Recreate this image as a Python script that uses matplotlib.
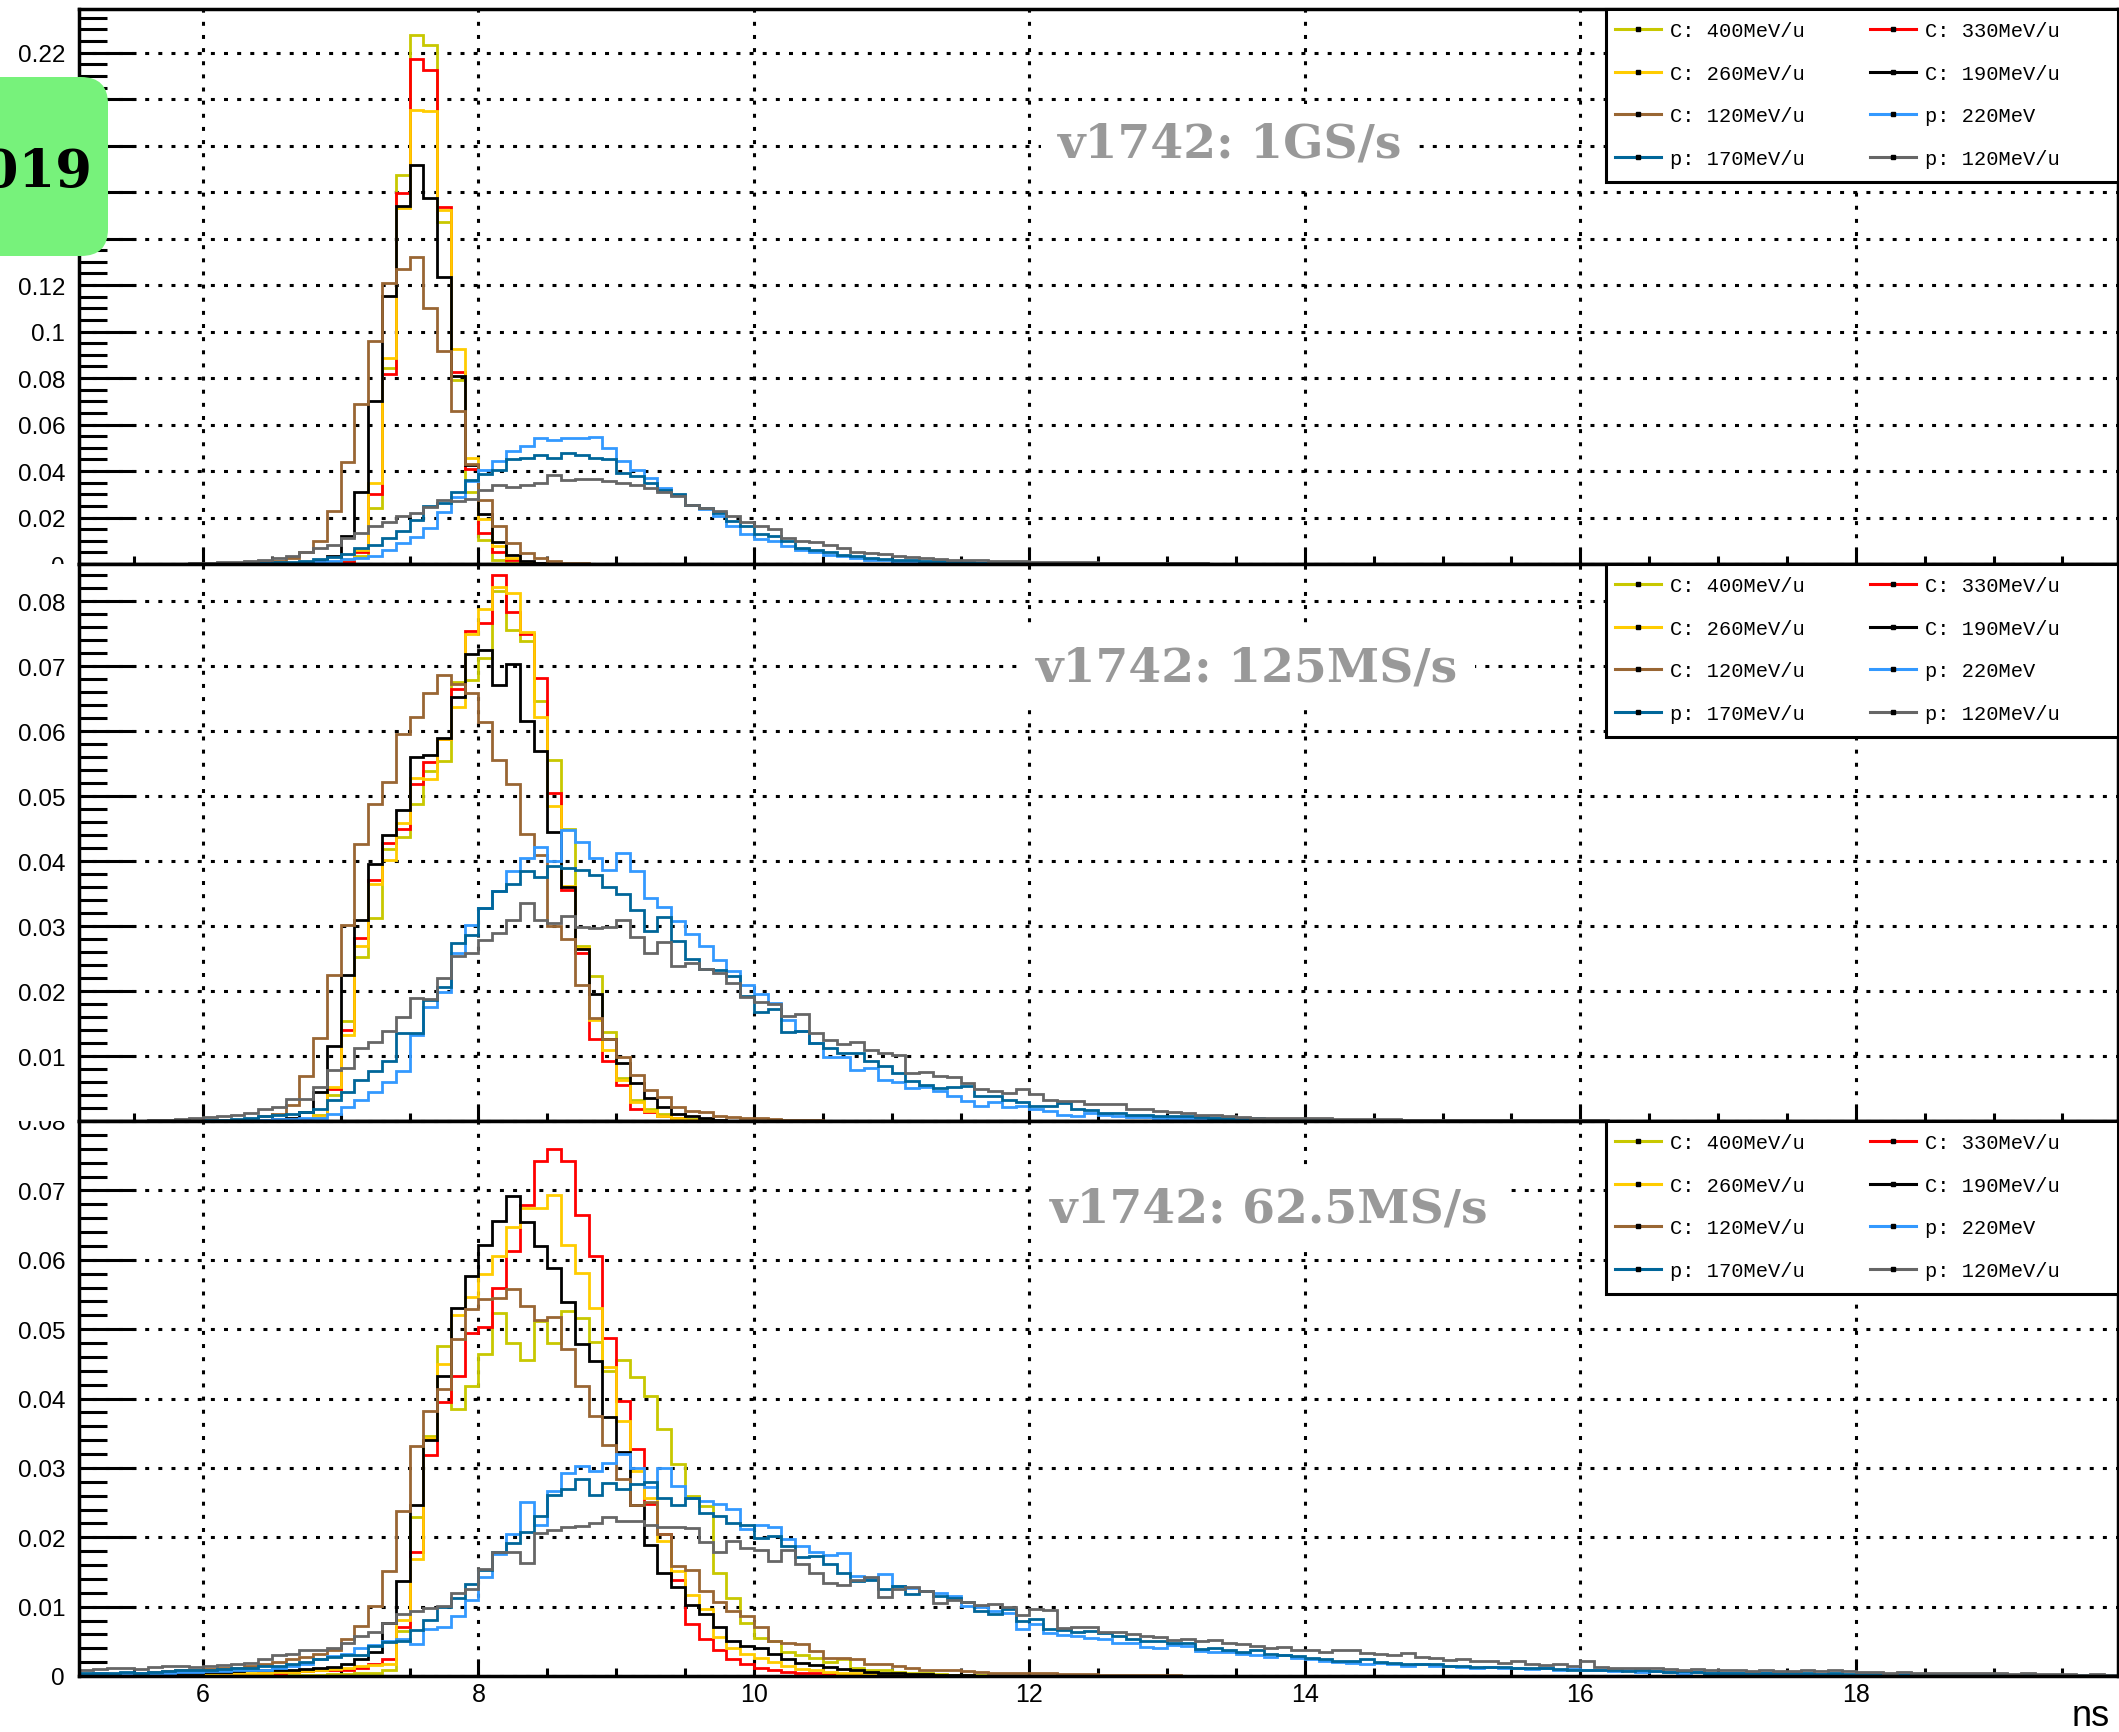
import numpy as np
import matplotlib
matplotlib.use('Agg')
import matplotlib.pyplot as plt
from matplotlib.lines import Line2D
from matplotlib.patches import Rectangle, FancyBboxPatch
from matplotlib.transforms import Bbox, TransformedBbox
from matplotlib.ticker import MultipleLocator

plt.rcParams['font.family'] = ['Liberation Sans', 'DejaVu Sans']

# time spectra, 0.1 ns bins between 5.1 and 19.9 ns
x_lo, x_hi, bin_w = 5.1, 19.9, 0.1
edges = np.round(x_lo + bin_w * np.arange(149), 2)

labels = ['C: 400MeV/u', 'C: 330MeV/u', 'C: 260MeV/u', 'C: 190MeV/u',
          'C: 120MeV/u', 'p: 220MeV', 'p: 170MeV/u', 'p: 120MeV/u']
colors = ['#c8c800', '#ff0000', '#ffcc00', '#000000',
          '#996633', '#3399ff', '#006699', '#666666']

titles = ['v1742: 1GS/s', 'v1742: 125MS/s', 'v1742: 62.5MS/s']

# ---------------- v1742 @ 1 GS/s ----------------
c400_1g0 = 6.9
c400_1g = [0.0005, 0.001, 0.0036, 0.024, 0.0844, 0.1675, 0.2274, 0.2235, 0.147, 0.079,
           0.031, 0.0105, 0.0019, 0.0005, 0.0002]
c330_1g0 = 6.9
c330_1g = [0.0005, 0.001, 0.005, 0.030, 0.0817, 0.1597, 0.2173, 0.2125, 0.1534, 0.0828,
           0.041, 0.0135, 0.005, 0.0019, 0.0005]
c260_1g0 = 6.9
c260_1g = [0.0008, 0.002, 0.006, 0.035, 0.0886, 0.153, 0.1953, 0.195, 0.1523, 0.0927,
           0.0456, 0.0194, 0.0078, 0.0026, 0.0008, 0.0002]
c190_1g0 = 6.7
c190_1g = [0.0008, 0.0015, 0.0036, 0.012, 0.031, 0.070, 0.1153, 0.154, 0.1715, 0.1576,
           0.1236, 0.0808, 0.0427, 0.0213, 0.0095, 0.004, 0.0012, 0.0004]
c120_1g0 = 6.3
c120_1g = [0.0005, 0.001, 0.0015, 0.0025, 0.005, 0.0099, 0.023, 0.044, 0.069, 0.096,
           0.121, 0.127, 0.132, 0.110, 0.0915, 0.066, 0.043, 0.0275, 0.0163, 0.009,
           0.0046, 0.0026, 0.0012, 0.0006, 0.0003]
p220_1g0 = 6.3
p220_1g = [0.0002, 0.0003, 0.0004, 0.0006, 0.0008, 0.001, 0.0014, 0.002, 0.0025, 0.0036,
           0.006, 0.009, 0.0118, 0.0154, 0.0224, 0.029, 0.0358, 0.0404, 0.0443, 0.0486,
           0.0508, 0.0544, 0.0532, 0.054, 0.054, 0.0548, 0.050, 0.0443, 0.0404, 0.037,
           0.0328, 0.0295, 0.0256, 0.0235, 0.0206, 0.0163, 0.0131, 0.0108, 0.0098, 0.0079,
           0.0062, 0.005, 0.004, 0.0033, 0.0026, 0.0019, 0.0016, 0.0013, 0.0011, 0.0009,
           0.0008, 0.0006, 0.0005, 0.0004, 0.0003, 0.0003, 0.0002, 0.0002, 0.0001]
p170_1g0 = 6.2
p170_1g = [0.0002, 0.0004, 0.0006, 0.0008, 0.001, 0.0015, 0.002, 0.003, 0.0044, 0.0067,
           0.0083, 0.011, 0.0143, 0.019, 0.025, 0.0264, 0.031, 0.0362, 0.0386, 0.0404,
           0.045, 0.0458, 0.0468, 0.0456, 0.0476, 0.0468, 0.0458, 0.045, 0.039, 0.0378,
           0.035, 0.032, 0.030, 0.0252, 0.0242, 0.022, 0.0184, 0.0163, 0.0131, 0.0122,
           0.0098, 0.0069, 0.0059, 0.005, 0.004, 0.0036, 0.0026, 0.0022, 0.0017, 0.0016,
           0.0014, 0.0012, 0.001, 0.0008, 0.0006, 0.0005, 0.0004, 0.0003, 0.0003, 0.0002,
           0.0002, 0.0001]
p120_1g0 = 5.8
p120_1g = [0.0002, 0.0003, 0.0005, 0.0007, 0.0009, 0.0012, 0.0018, 0.0025, 0.0035, 0.005,
           0.0068, 0.0083, 0.011, 0.0133, 0.0165, 0.018, 0.0205, 0.022, 0.0245, 0.0275,
           0.027, 0.028, 0.032, 0.0338, 0.0332, 0.0338, 0.035, 0.0381, 0.0361, 0.0367,
           0.0367, 0.0357, 0.035, 0.0338, 0.0328, 0.031, 0.0292, 0.0256, 0.0242, 0.0227,
           0.0206, 0.018, 0.0163, 0.0151, 0.0112, 0.010, 0.0094, 0.0083, 0.0069, 0.005,
           0.0047, 0.0045, 0.0036, 0.003, 0.0026, 0.0022, 0.0019, 0.0017, 0.0016, 0.0014,
           0.0013, 0.0011, 0.001, 0.0009, 0.0008, 0.0007, 0.0007, 0.0006, 0.0005, 0.0005,
           0.0004, 0.0004, 0.0003, 0.0003, 0.0003, 0.0002, 0.0002, 0.0002, 0.0001, 0.0001]

# ---------------- v1742 @ 125 MS/s ----------------
c400_125m0 = 6.8
c400_125m = [0.001, 0.004, 0.0154, 0.0253, 0.0313, 0.0418, 0.0437, 0.0488, 0.0538, 0.0554,
             0.0676, 0.0679, 0.0713, 0.0816, 0.0755, 0.0739, 0.0646, 0.0556, 0.045, 0.027,
             0.0223, 0.0137, 0.0066, 0.0033, 0.0019, 0.0011, 0.0005, 0.0003, 0.0001]
c330_125m0 = 6.7
c330_125m = [0.0003, 0.0008, 0.005, 0.014, 0.0281, 0.0371, 0.0427, 0.045, 0.0518, 0.0552,
             0.0588, 0.0665, 0.0754, 0.0766, 0.084, 0.0783, 0.075, 0.0681, 0.0505, 0.0355,
             0.0258, 0.0126, 0.0093, 0.0055, 0.0019, 0.0014, 0.0008, 0.0004, 0.0002]
c260_125m0 = 6.8
c260_125m = [0.0007, 0.0052, 0.0133, 0.027, 0.0364, 0.0401, 0.0459, 0.0527, 0.0526, 0.0587,
             0.0637, 0.075, 0.0787, 0.0821, 0.0813, 0.0753, 0.0621, 0.0484, 0.0362, 0.0266,
             0.0155, 0.011, 0.0063, 0.003, 0.0016, 0.0008, 0.0004, 0.0002]
c190_125m0 = 6.4
c190_125m = [0.0002, 0.0003, 0.0005, 0.0014, 0.0045, 0.0116, 0.0224, 0.031, 0.0395, 0.044,
             0.0478, 0.056, 0.0563, 0.059, 0.0653, 0.0719, 0.0724, 0.0671, 0.0703, 0.0615,
             0.0569, 0.0444, 0.036, 0.0264, 0.0195, 0.0126, 0.0089, 0.0058, 0.0036, 0.0022,
             0.0011, 0.0007, 0.0004, 0.0002]
c120_125m0 = 6.2
c120_125m = [0.0002, 0.0003, 0.0007, 0.0011, 0.0025, 0.0069, 0.0127, 0.0224, 0.0301, 0.0426,
             0.0487, 0.0522, 0.0596, 0.0622, 0.0658, 0.0686, 0.0673, 0.0658, 0.0614, 0.0555,
             0.0519, 0.0442, 0.041, 0.030, 0.028, 0.0209, 0.0159, 0.0126, 0.0098, 0.0071,
             0.0047, 0.0037, 0.0022, 0.0016, 0.0014, 0.0008, 0.0006, 0.0005, 0.0004, 0.0003,
             0.0002, 0.0002, 0.0001]
p220_125m0 = 6.3
p220_125m = [0.0001, 0.0002, 0.0003, 0.0003, 0.0004, 0.0005, 0.0011, 0.0021, 0.0033, 0.0045,
             0.006, 0.0077, 0.0133, 0.0175, 0.0199, 0.0259, 0.0302, 0.0327, 0.0354, 0.0384,
             0.0405, 0.0422, 0.040, 0.0448, 0.0429, 0.0404, 0.0386, 0.0413, 0.0385, 0.0343,
             0.0329, 0.0308, 0.0288, 0.0269, 0.0248, 0.0231, 0.021, 0.0195, 0.0182, 0.0156,
             0.0138, 0.012, 0.0099, 0.0099, 0.0079, 0.0082, 0.0063, 0.006, 0.0051, 0.0053,
             0.0046, 0.0039, 0.0031, 0.0023, 0.0029, 0.0021, 0.0023, 0.0018, 0.0015, 0.001,
             0.0008, 0.0013, 0.0009, 0.0007, 0.0006, 0.0006, 0.0005, 0.0005, 0.0004, 0.0004,
             0.0004, 0.0003, 0.0003, 0.0003, 0.0002, 0.0002, 0.0002, 0.0002, 0.0001, 0.0001,
             0.0001]
p170_125m0 = 6.0
p170_125m = [0.0002, 0.0002, 0.0003, 0.0005, 0.0007, 0.0009, 0.0011, 0.0014, 0.0018, 0.0033,
             0.0045, 0.0063, 0.0077, 0.0093, 0.0135, 0.0136, 0.0186, 0.0206, 0.0274, 0.0286,
             0.0327, 0.0354, 0.0365, 0.0385, 0.0376, 0.0393, 0.039, 0.0386, 0.0379, 0.036,
             0.0349, 0.0325, 0.0292, 0.0314, 0.0277, 0.025, 0.0234, 0.0232, 0.0223, 0.0192,
             0.0168, 0.0172, 0.0137, 0.0138, 0.012, 0.0113, 0.0105, 0.0104, 0.0092, 0.0085,
             0.0074, 0.0062, 0.0056, 0.0051, 0.0053, 0.0054, 0.0039, 0.0038, 0.0033, 0.0029,
             0.0023, 0.0023, 0.0027, 0.0018, 0.0017, 0.0013, 0.0012, 0.001, 0.0009, 0.0008,
             0.0008, 0.0007, 0.0006, 0.0005, 0.0005, 0.0004, 0.0004, 0.0003, 0.0003, 0.0003,
             0.0002, 0.0002, 0.0002, 0.0001, 0.0001, 0.0001]
p120_125m0 = 5.6
p120_125m = [0.0001, 0.0002, 0.0003, 0.0004, 0.0006, 0.0008, 0.001, 0.0013, 0.0018, 0.0022,
             0.0034, 0.0034, 0.0052, 0.0078, 0.0081, 0.0112, 0.0121, 0.0138, 0.016, 0.019,
             0.0187, 0.022, 0.0254, 0.0258, 0.0279, 0.029, 0.031, 0.0335, 0.031, 0.0305,
             0.0316, 0.0299, 0.0297, 0.0298, 0.0309, 0.0283, 0.0259, 0.0276, 0.0239, 0.0243,
             0.0234, 0.0228, 0.0213, 0.0191, 0.0183, 0.018, 0.0162, 0.0164, 0.0135, 0.0125,
             0.0118, 0.0122, 0.0109, 0.0105, 0.0101, 0.0074, 0.0075, 0.0069, 0.0068, 0.0059,
             0.005, 0.0046, 0.0043, 0.0049, 0.0041, 0.0033, 0.0031, 0.0031, 0.0026, 0.0026,
             0.0026, 0.0019, 0.0018, 0.0015, 0.0014, 0.0013, 0.001, 0.0009, 0.0007, 0.0006,
             0.0005, 0.0005, 0.0004, 0.0004, 0.0004, 0.0004, 0.0003, 0.0003, 0.0003, 0.0003,
             0.0003, 0.0002, 0.0002, 0.0002, 0.0002, 0.0002, 0.0002, 0.0001, 0.0001, 0.0001,
             0.0001, 0.0001, 0.0001, 0.0001, 0.0001, 0.0001]

# ---------------- v1742 @ 62.5 MS/s ----------------
c400_62m0 = 6.5
c400_62m = [0.0001, 0.0001, 0.0002, 0.0002, 0.0003, 0.0003, 0.0004, 0.0005, 0.0009, 0.0065,
            0.0229, 0.0346, 0.0475, 0.0385, 0.0418, 0.0464, 0.0523, 0.048, 0.0456, 0.0511,
            0.048, 0.0526, 0.0516, 0.0481, 0.0439, 0.0456, 0.0431, 0.0404, 0.0356, 0.0305,
            0.0259, 0.0245, 0.0148, 0.0113, 0.0076, 0.0055, 0.005, 0.0035, 0.003, 0.0026,
            0.002, 0.0024, 0.0011, 0.0009, 0.0008, 0.0006, 0.0005, 0.0004, 0.0003, 0.0002,
            0.0002, 0.0001]
c330_62m0 = 6.0
c330_62m = [0.0002, 0.0002, 0.0003, 0.0003, 0.0004, 0.0005, 0.0006, 0.0007, 0.0008, 0.0009,
            0.0009, 0.0011, 0.0017, 0.0025, 0.0071, 0.0179, 0.0318, 0.0395, 0.0433, 0.0494,
            0.0503, 0.0559, 0.0613, 0.0679, 0.0743, 0.076, 0.0743, 0.0665, 0.0606, 0.0487,
            0.0397, 0.0327, 0.0248, 0.0204, 0.0139, 0.0075, 0.0053, 0.0038, 0.0025, 0.0017,
            0.0012, 0.0009, 0.0006, 0.0005, 0.0004, 0.0003, 0.0002, 0.0002, 0.0001]
c260_62m0 = 5.6
c260_62m = [0.0002, 0.0002, 0.0003, 0.0003, 0.0003, 0.0004, 0.0004, 0.0005, 0.0005, 0.0006,
            0.0006, 0.0007, 0.0008, 0.001, 0.0012, 0.0015, 0.0016, 0.0017, 0.0081, 0.0169,
            0.0343, 0.045, 0.0521, 0.0547, 0.058, 0.0606, 0.0647, 0.0675, 0.0675, 0.0693,
            0.0621, 0.0581, 0.0531, 0.0446, 0.0368, 0.0295, 0.0256, 0.0194, 0.0151, 0.0117,
            0.0097, 0.0056, 0.004, 0.0031, 0.0026, 0.002, 0.0014, 0.001, 0.0008, 0.0006,
            0.0005, 0.0004, 0.0003, 0.0002, 0.0002, 0.0001]
c190_62m0 = 5.1
c190_62m = [0.0001, 0.0001, 0.0002, 0.0002, 0.0003, 0.0003, 0.0004, 0.0005, 0.0005, 0.0006,
            0.0006, 0.0007, 0.0008, 0.0008, 0.0009, 0.0009, 0.001, 0.0012, 0.0013, 0.0017,
            0.0024, 0.0035, 0.0076, 0.0137, 0.0246, 0.034, 0.0433, 0.0531, 0.0576, 0.0621,
            0.0656, 0.0692, 0.0655, 0.062, 0.0588, 0.0539, 0.0478, 0.0454, 0.0374, 0.0323,
            0.0246, 0.0189, 0.0148, 0.0128, 0.0102, 0.0089, 0.0071, 0.005, 0.0043, 0.0041,
            0.0032, 0.0024, 0.0019, 0.0016, 0.0013, 0.001, 0.0008, 0.0006, 0.0005, 0.0004,
            0.0003, 0.0003, 0.0002, 0.0002, 0.0001]
c120_62m0 = 5.1
c120_62m = [0.0002, 0.0003, 0.0003, 0.0004, 0.0005, 0.0006, 0.0007, 0.0008, 0.0009, 0.001,
            0.0011, 0.0012, 0.0014, 0.0017, 0.002, 0.0024, 0.0027, 0.0031, 0.0038, 0.0053,
            0.0072, 0.0101, 0.0152, 0.0238, 0.0331, 0.0382, 0.0413, 0.0486, 0.0529, 0.0544,
            0.0545, 0.0558, 0.0534, 0.0513, 0.0517, 0.0472, 0.0418, 0.0375, 0.0333, 0.0284,
            0.0247, 0.0251, 0.0205, 0.0158, 0.0153, 0.0122, 0.0107, 0.0093, 0.0086, 0.007,
            0.005, 0.0048, 0.0046, 0.0036, 0.0026, 0.0026, 0.0024, 0.0018, 0.0017, 0.0014,
            0.0011, 0.0009, 0.0008, 0.0008, 0.0007, 0.0006, 0.0005, 0.0005, 0.0005, 0.0004,
            0.0004, 0.0003, 0.0003, 0.0003, 0.0002, 0.0002, 0.0002, 0.0002, 0.0001, 0.0001]
p220_62m0 = 5.1
p220_62m = [0.0003, 0.0004, 0.0003, 0.0004, 0.0004, 0.0005, 0.0005, 0.0006, 0.0006, 0.0007,
            0.0007, 0.0008, 0.0008, 0.0009, 0.0012, 0.0014, 0.0017, 0.0024, 0.0029, 0.0032,
            0.004, 0.0045, 0.005, 0.0053, 0.0046, 0.0068, 0.0071, 0.0086, 0.011, 0.0143,
            0.0176, 0.0204, 0.0251, 0.0217, 0.0266, 0.0293, 0.0302, 0.0295, 0.0307, 0.032,
            0.030, 0.0272, 0.030, 0.0274, 0.0257, 0.0252, 0.0248, 0.0241, 0.0212, 0.0217,
            0.0215, 0.0197, 0.0188, 0.0179, 0.0175, 0.0178, 0.0144, 0.014, 0.0147, 0.013,
            0.0127, 0.0123, 0.0119, 0.0116, 0.0101, 0.0099, 0.0094, 0.0091, 0.0068, 0.0075,
            0.0062, 0.0059, 0.0058, 0.0055, 0.0053, 0.0047, 0.0047, 0.0042, 0.0041, 0.0044,
            0.0043, 0.0036, 0.0035, 0.0034, 0.0031, 0.003, 0.0028, 0.003, 0.0026, 0.0025,
            0.0022, 0.002, 0.0019, 0.0018, 0.0019, 0.0017, 0.0015, 0.0017, 0.0014, 0.0015,
            0.0013, 0.0012, 0.0013, 0.0011, 0.0012, 0.001, 0.0011, 0.0009, 0.001, 0.0008,
            0.0009, 0.0007, 0.0008, 0.0006, 0.0007, 0.0006, 0.0005, 0.0006, 0.0005, 0.0004,
            0.0005, 0.0004, 0.0004, 0.0003, 0.0004, 0.0003, 0.0003, 0.0003, 0.0002, 0.0003,
            0.0002, 0.0002, 0.0003, 0.0002, 0.0002, 0.0002, 0.0001, 0.0002, 0.0002, 0.0001,
            0.0002, 0.0001, 0.0001, 0.0002, 0.0001, 0.0001, 0.0001, 0.0001]
p170_62m0 = 5.1
p170_62m = [0.0004, 0.0005, 0.0004, 0.0006, 0.0005, 0.0006, 0.0007, 0.0008, 0.0008, 0.0009,
            0.001, 0.0011, 0.0012, 0.0014, 0.0015, 0.0017, 0.002, 0.0024, 0.0027, 0.003,
            0.003, 0.0043, 0.0049, 0.0051, 0.0066, 0.0081, 0.0099, 0.0112, 0.0133, 0.0153,
            0.0179, 0.0192, 0.0207, 0.023, 0.0261, 0.027, 0.0284, 0.0261, 0.0278, 0.0269,
            0.0277, 0.0279, 0.0256, 0.0246, 0.0256, 0.0235, 0.0231, 0.022, 0.0217, 0.0199,
            0.0202, 0.0187, 0.0171, 0.0173, 0.0161, 0.0149, 0.0137, 0.0139, 0.0125, 0.013,
            0.0118, 0.0123, 0.0115, 0.0112, 0.0106, 0.0094, 0.0089, 0.0096, 0.0079, 0.0082,
            0.0068, 0.0066, 0.0063, 0.0065, 0.0062, 0.0058, 0.0054, 0.005, 0.0051, 0.0048,
            0.0047, 0.0039, 0.0041, 0.0038, 0.0034, 0.0038, 0.0031, 0.003, 0.0029, 0.0026,
            0.0024, 0.0022, 0.0022, 0.0024, 0.002, 0.0019, 0.0018, 0.0017, 0.0017, 0.0015,
            0.0014, 0.0013, 0.0013, 0.0013, 0.0012, 0.0011, 0.0011, 0.001, 0.0009, 0.0009,
            0.0008, 0.0009, 0.0007, 0.0008, 0.0007, 0.0006, 0.0007, 0.0006, 0.0005, 0.0005,
            0.0005, 0.0004, 0.0005, 0.0004, 0.0004, 0.0004, 0.0003, 0.0004, 0.0003, 0.0003,
            0.0003, 0.0003, 0.0002, 0.0003, 0.0002, 0.0002, 0.0003, 0.0002, 0.0002, 0.0002,
            0.0002, 0.0001, 0.0002, 0.0002, 0.0001, 0.0002, 0.0001, 0.0001]
p120_62m0 = 5.1
p120_62m = [0.0009, 0.001, 0.0012, 0.0011, 0.001, 0.0013, 0.0014, 0.0014, 0.0013, 0.0015,
            0.0016, 0.0018, 0.0019, 0.0024, 0.003, 0.0031, 0.0038, 0.0038, 0.004, 0.0048,
            0.0057, 0.0063, 0.0077, 0.0089, 0.0093, 0.0098, 0.0101, 0.012, 0.0126, 0.0154,
            0.0179, 0.0179, 0.0163, 0.0206, 0.021, 0.0215, 0.0216, 0.0221, 0.0229, 0.0224,
            0.0224, 0.0217, 0.0215, 0.0215, 0.0214, 0.0193, 0.0179, 0.0195, 0.0184, 0.0181,
            0.0166, 0.0181, 0.0161, 0.0148, 0.0134, 0.0131, 0.0138, 0.0143, 0.0114, 0.0126,
            0.0129, 0.0122, 0.0105, 0.011, 0.0106, 0.0102, 0.0104, 0.010, 0.0088, 0.0096,
            0.0095, 0.0069, 0.0071, 0.0071, 0.0064, 0.0063, 0.0061, 0.0057, 0.0056, 0.0052,
            0.0054, 0.005, 0.0052, 0.0047, 0.0046, 0.0043, 0.0041, 0.0042, 0.0038, 0.0038,
            0.0035, 0.0037, 0.0038, 0.0033, 0.0032, 0.003, 0.0033, 0.0028, 0.0026, 0.0023,
            0.0024, 0.0022, 0.0021, 0.0019, 0.0021, 0.0018, 0.0016, 0.0017, 0.0014, 0.0021,
            0.0013, 0.0012, 0.0012, 0.0011, 0.0012, 0.001, 0.0009, 0.001, 0.0008, 0.0009,
            0.0008, 0.0007, 0.0009, 0.0007, 0.0007, 0.0008, 0.0007, 0.0008, 0.0007, 0.0006,
            0.0006, 0.0005, 0.0006, 0.0005, 0.0005, 0.0004, 0.0005, 0.0004, 0.0004, 0.0004,
            0.0003, 0.0004, 0.0003, 0.0003, 0.0003, 0.0002, 0.0003, 0.0002]

panels = [
    [(c400_1g0, c400_1g), (c330_1g0, c330_1g), (c260_1g0, c260_1g), (c190_1g0, c190_1g),
     (c120_1g0, c120_1g), (p220_1g0, p220_1g), (p170_1g0, p170_1g), (p120_1g0, p120_1g)],
    [(c400_125m0, c400_125m), (c330_125m0, c330_125m), (c260_125m0, c260_125m),
     (c190_125m0, c190_125m), (c120_125m0, c120_125m), (p220_125m0, p220_125m),
     (p170_125m0, p170_125m), (p120_125m0, p120_125m)],
    [(c400_62m0, c400_62m), (c330_62m0, c330_62m), (c260_62m0, c260_62m),
     (c190_62m0, c190_62m), (c120_62m0, c120_62m), (p220_62m0, p220_62m),
     (p170_62m0, p170_62m), (p120_62m0, p120_62m)],
]


def to_hist(x0, vals):
    h = np.zeros(len(edges) - 1)
    i0 = int(round((x0 - x_lo) / bin_w))
    h[i0:i0 + len(vals)] = vals
    return h


W, H = 2119, 1733
fig = plt.figure(figsize=(W / 100, H / 100), dpi=100)

# pad geometry in pixels (top, bottom) -- pads touch each other
pad_px = [(10, 565), (565, 1122), (1122, 1677)]
ax_left, ax_right = 79, 2117.5
ymax = [0.2388, 0.0857, 0.080]
ymaj = [0.02, 0.01, 0.01]
ymin_ = [0.005, 0.002, 0.002]
title_pos = [(1058, 158), (1036, 682), (1050, 1223)]   # left, baseline (px)
legend_h = 173

# legend handle order so the two columns read row-wise
leg_order = [0, 2, 4, 6, 1, 3, 5, 7]

for k, (top, bot) in enumerate(pad_px):
    ax = fig.add_axes([ax_left / W, 1 - bot / H, (ax_right - ax_left) / W, (bot - top) / H])
    for (x0, vals), c in zip(panels[k], colors):
        ax.stairs(to_hist(x0, vals), edges, color=c, lw=2.0, zorder=2)

    ax.set_xlim(x_lo, x_hi)
    ax.set_ylim(0, ymax[k])
    ax.xaxis.set_major_locator(MultipleLocator(2))
    ax.xaxis.set_minor_locator(MultipleLocator(0.5))
    ax.yaxis.set_major_locator(MultipleLocator(ymaj[k]))
    ax.yaxis.set_minor_locator(MultipleLocator(ymin_[k]))
    ax.grid(True, which='major', color='k', lw=2.2, linestyle=(0, (1.3, 3.0)))

    for s in ax.spines.values():
        s.set_linewidth(2.5)
    ax.tick_params(axis='y', which='major', direction='in', length=41, width=2.2,
                   pad=10, labelsize=17.5)
    ax.tick_params(axis='y', which='minor', direction='in', length=20.5, width=2.2)
    ax.tick_params(axis='x', which='major', direction='in', length=11.5, width=2.2,
                   pad=4, labelsize=18, labelbottom=(k == 2))
    ax.tick_params(axis='x', which='minor', direction='in', length=5.8, width=2.2)

    # y labels are clipped to their own pad; the ones under the badge stay blank
    yticks = np.round(np.arange(0, ymax[k] + 1e-9, ymaj[k]), 3)
    ax.set_yticks(yticks)
    ylabs = []
    for v in yticks:
        if (k == 1 and v == 0) or (k == 0 and 0.13 < v < 0.21):
            ylabs.append('')
        else:
            ylabs.append('0' if v == 0 else f'{v:g}')
    ax.set_yticklabels(ylabs)
    clip_lo = 0 if k == 2 else 1 - bot / H
    clip_hi = 1 if k == 0 else 1 - top / H
    clip = TransformedBbox(Bbox.from_extents(0, clip_lo, 1, clip_hi), fig.transFigure)
    for lab in ax.get_yticklabels():
        lab.set_clip_box(clip)
        lab.set_clip_on(True)

    # sampling-rate title with white backing
    tx, ty = title_pos[k]
    ax.text((tx - ax_left) / (ax_right - ax_left), 1 - (ty - top) / (bot - top), titles[k],
            transform=ax.transAxes, ha='left', va='baseline', fontsize=34,
            fontweight='bold', family='DejaVu Serif', color='#999999', zorder=3,
            bbox=dict(boxstyle='square,pad=0.35', facecolor='white', edgecolor='none'))

    # legend box
    h_frac = legend_h / (bot - top)
    fx0 = (1606 - ax_left) / (ax_right - ax_left)
    ax.add_patch(Rectangle((fx0, 1 - h_frac), 1 - fx0, h_frac, transform=ax.transAxes,
                           facecolor='white', edgecolor='black', lw=2.2, zorder=4,
                           clip_on=False))
    handles = [Line2D([], [], color=colors[i], lw=2.2, marker='s', markersize=2.5,
                      markerfacecolor='k', markeredgecolor='k') for i in leg_order]
    ax.legend(handles, [labels[i] for i in leg_order], ncol=2, loc='upper left',
              bbox_to_anchor=(fx0, 1 - 3 / (bot - top)), borderaxespad=0, frameon=False,
              prop={'family': 'Liberation Mono', 'size': 14.7}, borderpad=0.44,
              handlelength=2.25, handletextpad=0.45, columnspacing=3.19,
              labelspacing=1.16, numpoints=1)

fig.text(2110 / W, 1 - 1726 / H, 'ns', ha='right', va='baseline', fontsize=26)

# corner badge
fig.add_artist(FancyBboxPatch((-0.5, (H - 257) / 100), 1.58, 1.79,
                              boxstyle='round,pad=0,rounding_size=0.27',
                              transform=fig.dpi_scale_trans, facecolor='#77f27b',
                              edgecolor='none', zorder=10))
fig.text(92 / W, 1 - 187 / H, '2019', ha='right', va='baseline', fontsize=38,
         fontweight='bold', family='DejaVu Serif', color='black', zorder=11)

fig.savefig('out.png', dpi=100)
